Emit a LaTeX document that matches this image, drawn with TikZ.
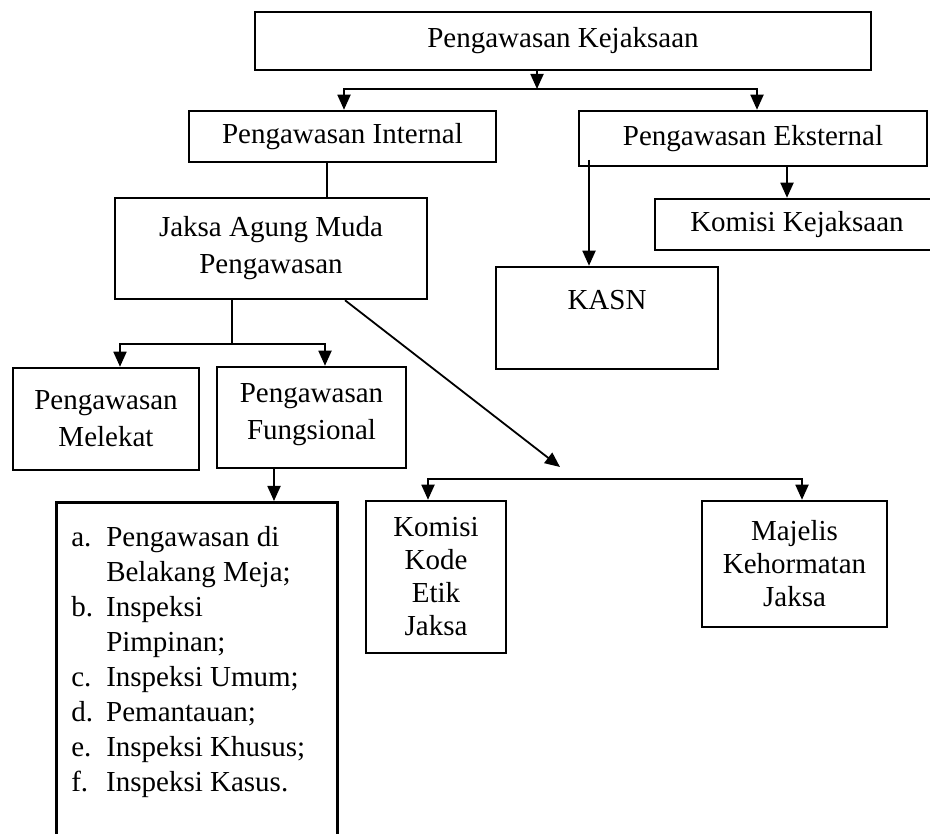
\documentclass[tikz,border=0pt]{standalone}
\usepackage{fontspec}
\setmainfont{Liberation Serif}
\usetikzlibrary{arrows.meta}

\begin{document}
\begin{tikzpicture}[x=1pt, y=-1pt,
        box/.style={rectangle, draw, line width=2.5pt, inner sep=0pt, align=center,
            font=\fontsize{29}{33}\selectfont},
        wide/.style={font=\fontsize{29}{37}\selectfont},
        arrow/.style={line width=1.8pt, -{Triangle[length=15pt,width=13pt]}},
        fork/.style={line width=1.8pt, {Triangle[length=15pt,width=13pt]}-{Triangle[length=15pt,width=13pt]}},
        link/.style={line width=1.8pt}
    ]
        \path[use as bounding box] (0,0) rectangle (930,834);
        \clip (0,0) rectangle (930,834);

        \node[box, minimum width=616, minimum height=58] (kejaksaan) at (563,41) {Pengawasan Kejaksaan};
        \node[box, minimum width=307, minimum height=51] (internal) at (342.5,136.5) {Pengawasan Internal};
        \node[box, minimum width=348, minimum height=55] (eksternal) at (753,138.5) {Pengawasan Eksternal};
        \node[box, wide, minimum width=312, minimum height=101] (jam) at (271,248.5) {Jaksa Agung Muda\\Pengawasan};
        \node[box, minimum width=284, minimum height=51] (komisi) at (797,224.5) {Komisi Kejaksaan};
        \node[box, minimum width=222, minimum height=102] (kasn) at (607,318) {KASN\\[4pt]\mbox{}};
        \node[box, wide, minimum width=186, minimum height=102] (melekat) at (106,419) {Pengawasan\\Melekat};
        \node[box, wide, minimum width=189, minimum height=101] (fungsional) at (311.5,417.5) {Pengawasan\\Fungsional\\[-26pt]\mbox{}};
        \node[box, anchor=north west] (daftar) at (55,501) {\parbox[c][400pt][t]{281pt}{%
            \fontsize{29}{35}\selectfont\vspace*{20pt}\hspace*{15pt}%
            \begin{tabular}[t]{@{}p{35pt}@{}l@{}}
                a. & Pengawasan di\\
                   & Belakang Meja;\\
                b. & Inspeksi\\
                   & Pimpinan;\\
                c. & Inspeksi Umum;\\
                d. & Pemantauan;\\
                e. & Inspeksi Khusus;\\
                f. & Inspeksi Kasus.
            \end{tabular}}};
        \node[box, minimum width=140, minimum height=152] (kode) at (436,577) {Komisi\\Kode\\Etik\\Jaksa};
        \node[box, minimum width=185, minimum height=126] (majelis) at (794.5,564) {Majelis\\Kehormatan\\Jaksa};

        % top fork
        \coordinate (fork1) at (537,89);
        \coordinate (fork1L) at (344,89);
        \coordinate (fork1R) at (757,89);
        \draw[arrow] (kejaksaan.south -| fork1) -- (fork1);
        \draw[fork] (internal.north -| fork1L) -- (fork1L) -- (fork1R) -- (eksternal.north -| fork1R);

        \coordinate (link1) at (327,180);
        \draw[link] (internal.south -| link1) -- (jam.north -| link1);
        \coordinate (kasnIn) at (589,160);
        \draw[arrow] (kasnIn) -- (kasn.north -| kasnIn);
        \coordinate (link2) at (787,180);
        \draw[arrow] (eksternal.south -| link2) -- (komisi.north -| link2);

        % internal branches
        \coordinate (fork2) at (232,344);
        \coordinate (fork2L) at (120,344);
        \coordinate (fork2R) at (325,344);
        \draw[link] (jam.south -| fork2) -- (fork2);
        \draw[fork] (melekat.north -| fork2L) -- (fork2L) -- (fork2R) -- (fungsional.north -| fork2R);

        \coordinate (diagS) at (345,299);
        \coordinate (diagE) at (560,467);
        \draw[arrow] (jam.south -| diagS) -- (diagE);

        \coordinate (link3) at (274,480);
        \draw[arrow] (fungsional.south -| link3) -- (daftar.north -| link3);

        \coordinate (fork3L) at (428,479);
        \coordinate (fork3R) at (802,479);
        \draw[fork] (kode.north -| fork3L) -- (fork3L) -- (fork3R) -- (majelis.north -| fork3R);
    \end{tikzpicture}
\end{document}
